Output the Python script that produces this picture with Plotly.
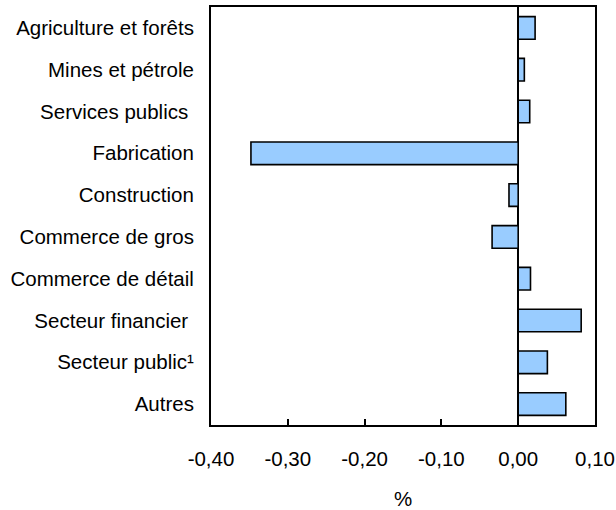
import plotly.graph_objects as go

categories = [
    "Agriculture et forêts",
    "Mines et pétrole",
    "Services publics\u00a0",
    "Fabrication",
    "Construction",
    "Commerce de gros",
    "Commerce de détail",
    "Secteur financier\u00a0",
    "Secteur public¹",
    "Autres",
]
values = [0.022, 0.008, 0.015, -0.348, -0.012, -0.034, 0.016, 0.082, 0.038, 0.062]
tick_vals = [-0.40, -0.30, -0.20, -0.10, 0.00, 0.10]
tick_text = ["-0,40", "-0,30", "-0,20", "-0,10", "0,00", "0,10"]

FONT = "Liberation Sans, Arial, Helvetica, sans-serif"

fig = go.Figure(
    go.Bar(
        x=values,
        y=categories,
        orientation="h",
        width=0.54,
        marker=dict(color="#99ccff", line=dict(color="#000000", width=1.6)),
    )
)

fig.update_layout(
    width=616,
    height=510,
    margin=dict(l=211, r=21, t=7, b=85),
    plot_bgcolor="white",
    paper_bgcolor="white",
    showlegend=False,
    font=dict(family=FONT, size=20.5, color="#000000"),
)

fig.update_xaxes(
    range=[-0.40, 0.10],
    tickvals=tick_vals,
    ticktext=tick_text,
    ticks="inside",
    ticklen=6,
    tickwidth=1.5,
    tickcolor="#000000",
    showgrid=False,
    showline=True,
    linecolor="#000000",
    linewidth=2,
    mirror=True,
    zeroline=True,
    zerolinecolor="#000000",
    zerolinewidth=2,
    automargin=False,
    ticklabelstandoff=14,
    title=dict(text="%", standoff=33, font=dict(size=20.5)),
)

fig.update_yaxes(
    categoryorder="array",
    categoryarray=categories,
    range=[9.5, -0.5],
    showgrid=False,
    ticks="",
    showline=True,
    linecolor="#000000",
    linewidth=2,
    mirror=True,
    automargin=False,
    ticklabelstandoff=11,
)

fig.write_html(
    "out.html",
    config={"displayModeBar": False},
    post_script="document.body.style.margin='0';document.body.style.padding='0';",
)
